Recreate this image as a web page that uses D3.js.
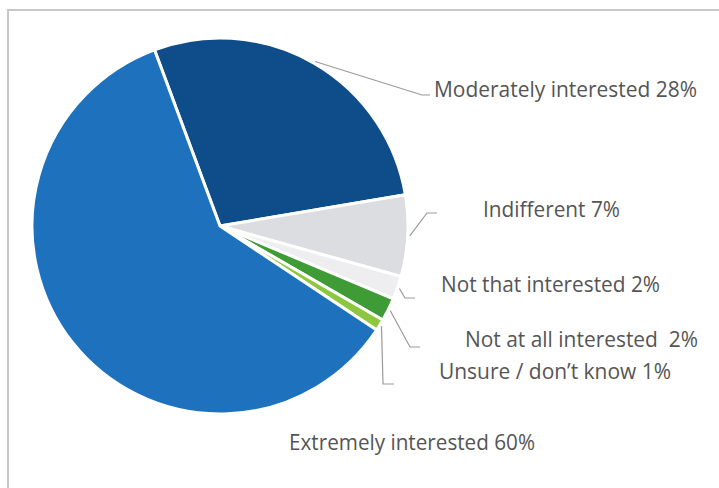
<!DOCTYPE html>
<html>
<head>
<meta charset="utf-8">
<script src="https://cdn.jsdelivr.net/npm/d3@7"></script>
<style>
  body { margin: 0; background: #fff; }
  svg { display: block; }
  .label { font-family: "Open Sans", "Noto Sans", sans-serif; fill: #555; }
</style>
</head>
<body>
<svg width="719" height="488"></svg>
<script>
// data
var categories = ["Moderately interested", "Indifferent", "Not that interested",
  "Not at all interested", "Unsure / don\u2019t know", "Extremely interested"];
var values = [28, 7, 2, 2, 1, 60];
var labels = ["Moderately interested 28%", "Indifferent 7%", "Not that interested 2%",
  "Not at all interested\u00a0 2%", "Unsure / don\u2019t know 1%", "Extremely interested 60%"];
var colors = ["#0f4c8a", "#dcdde1", "#eeeef0", "#3f9b35", "#8dc63f", "#1e71bd"];

// layout of labels (text start, baseline, target width) and leader elbows
var labelPos = [[434, 97, 263], [483, 217, 137], [441, 292, 219], [465, 347, 233], [439, 379, 232], [289, 450, 246]];
var elbows = [[422, 95, 430], [427, 213, 437], [405, 298, 415], [410, 347, 420], [383, 384, 394], null];

var svg = d3.select("svg");
var cx = 220, cy = 226, r = 188;

// frame
svg.append("path")
  .attr("d", "M8,500 L8,10 L730,10")
  .attr("fill", "none")
  .attr("stroke", "#c8c8c8")
  .attr("stroke-width", 2);

var start = -20.4 * Math.PI / 180;
var pie = d3.pie().sort(null).startAngle(start).endAngle(start + 2 * Math.PI);
var arcs = pie(values);
var arc = d3.arc().innerRadius(0).outerRadius(r);

var g = svg.append("g").attr("transform", "translate(" + cx + "," + cy + ")");
g.selectAll("path.slice")
  .data(arcs)
  .enter().append("path")
  .attr("class", "slice")
  .attr("d", arc)
  .attr("fill", (d, i) => colors[i])
  .attr("stroke", "#fff")
  .attr("stroke-width", 3)
  .attr("stroke-linejoin", "round");

// leader lines
arcs.forEach(function (d, i) {
  var e = elbows[i];
  if (!e) return;
  var a = (d.startAngle + d.endAngle) / 2;
  var x0 = cx + (r + 2) * Math.sin(a), y0 = cy - (r + 2) * Math.cos(a);
  svg.append("polyline")
    .attr("points", [[x0, y0], [e[0], e[1]], [e[2], e[1]]].map(p => p.join(",")).join(" "))
    .attr("fill", "none")
    .attr("stroke", "#9a9a9a")
    .attr("stroke-width", 1.2);
});

// labels
labels.forEach(function (t, i) {
  var p = labelPos[i];
  svg.append("text")
    .attr("class", "label")
    .attr("x", p[0])
    .attr("y", p[1])
    .attr("font-size", 21)
    .attr("textLength", p[2])
    .attr("lengthAdjust", "spacingAndGlyphs")
    .text(t);
});
</script>
</body>
</html>
